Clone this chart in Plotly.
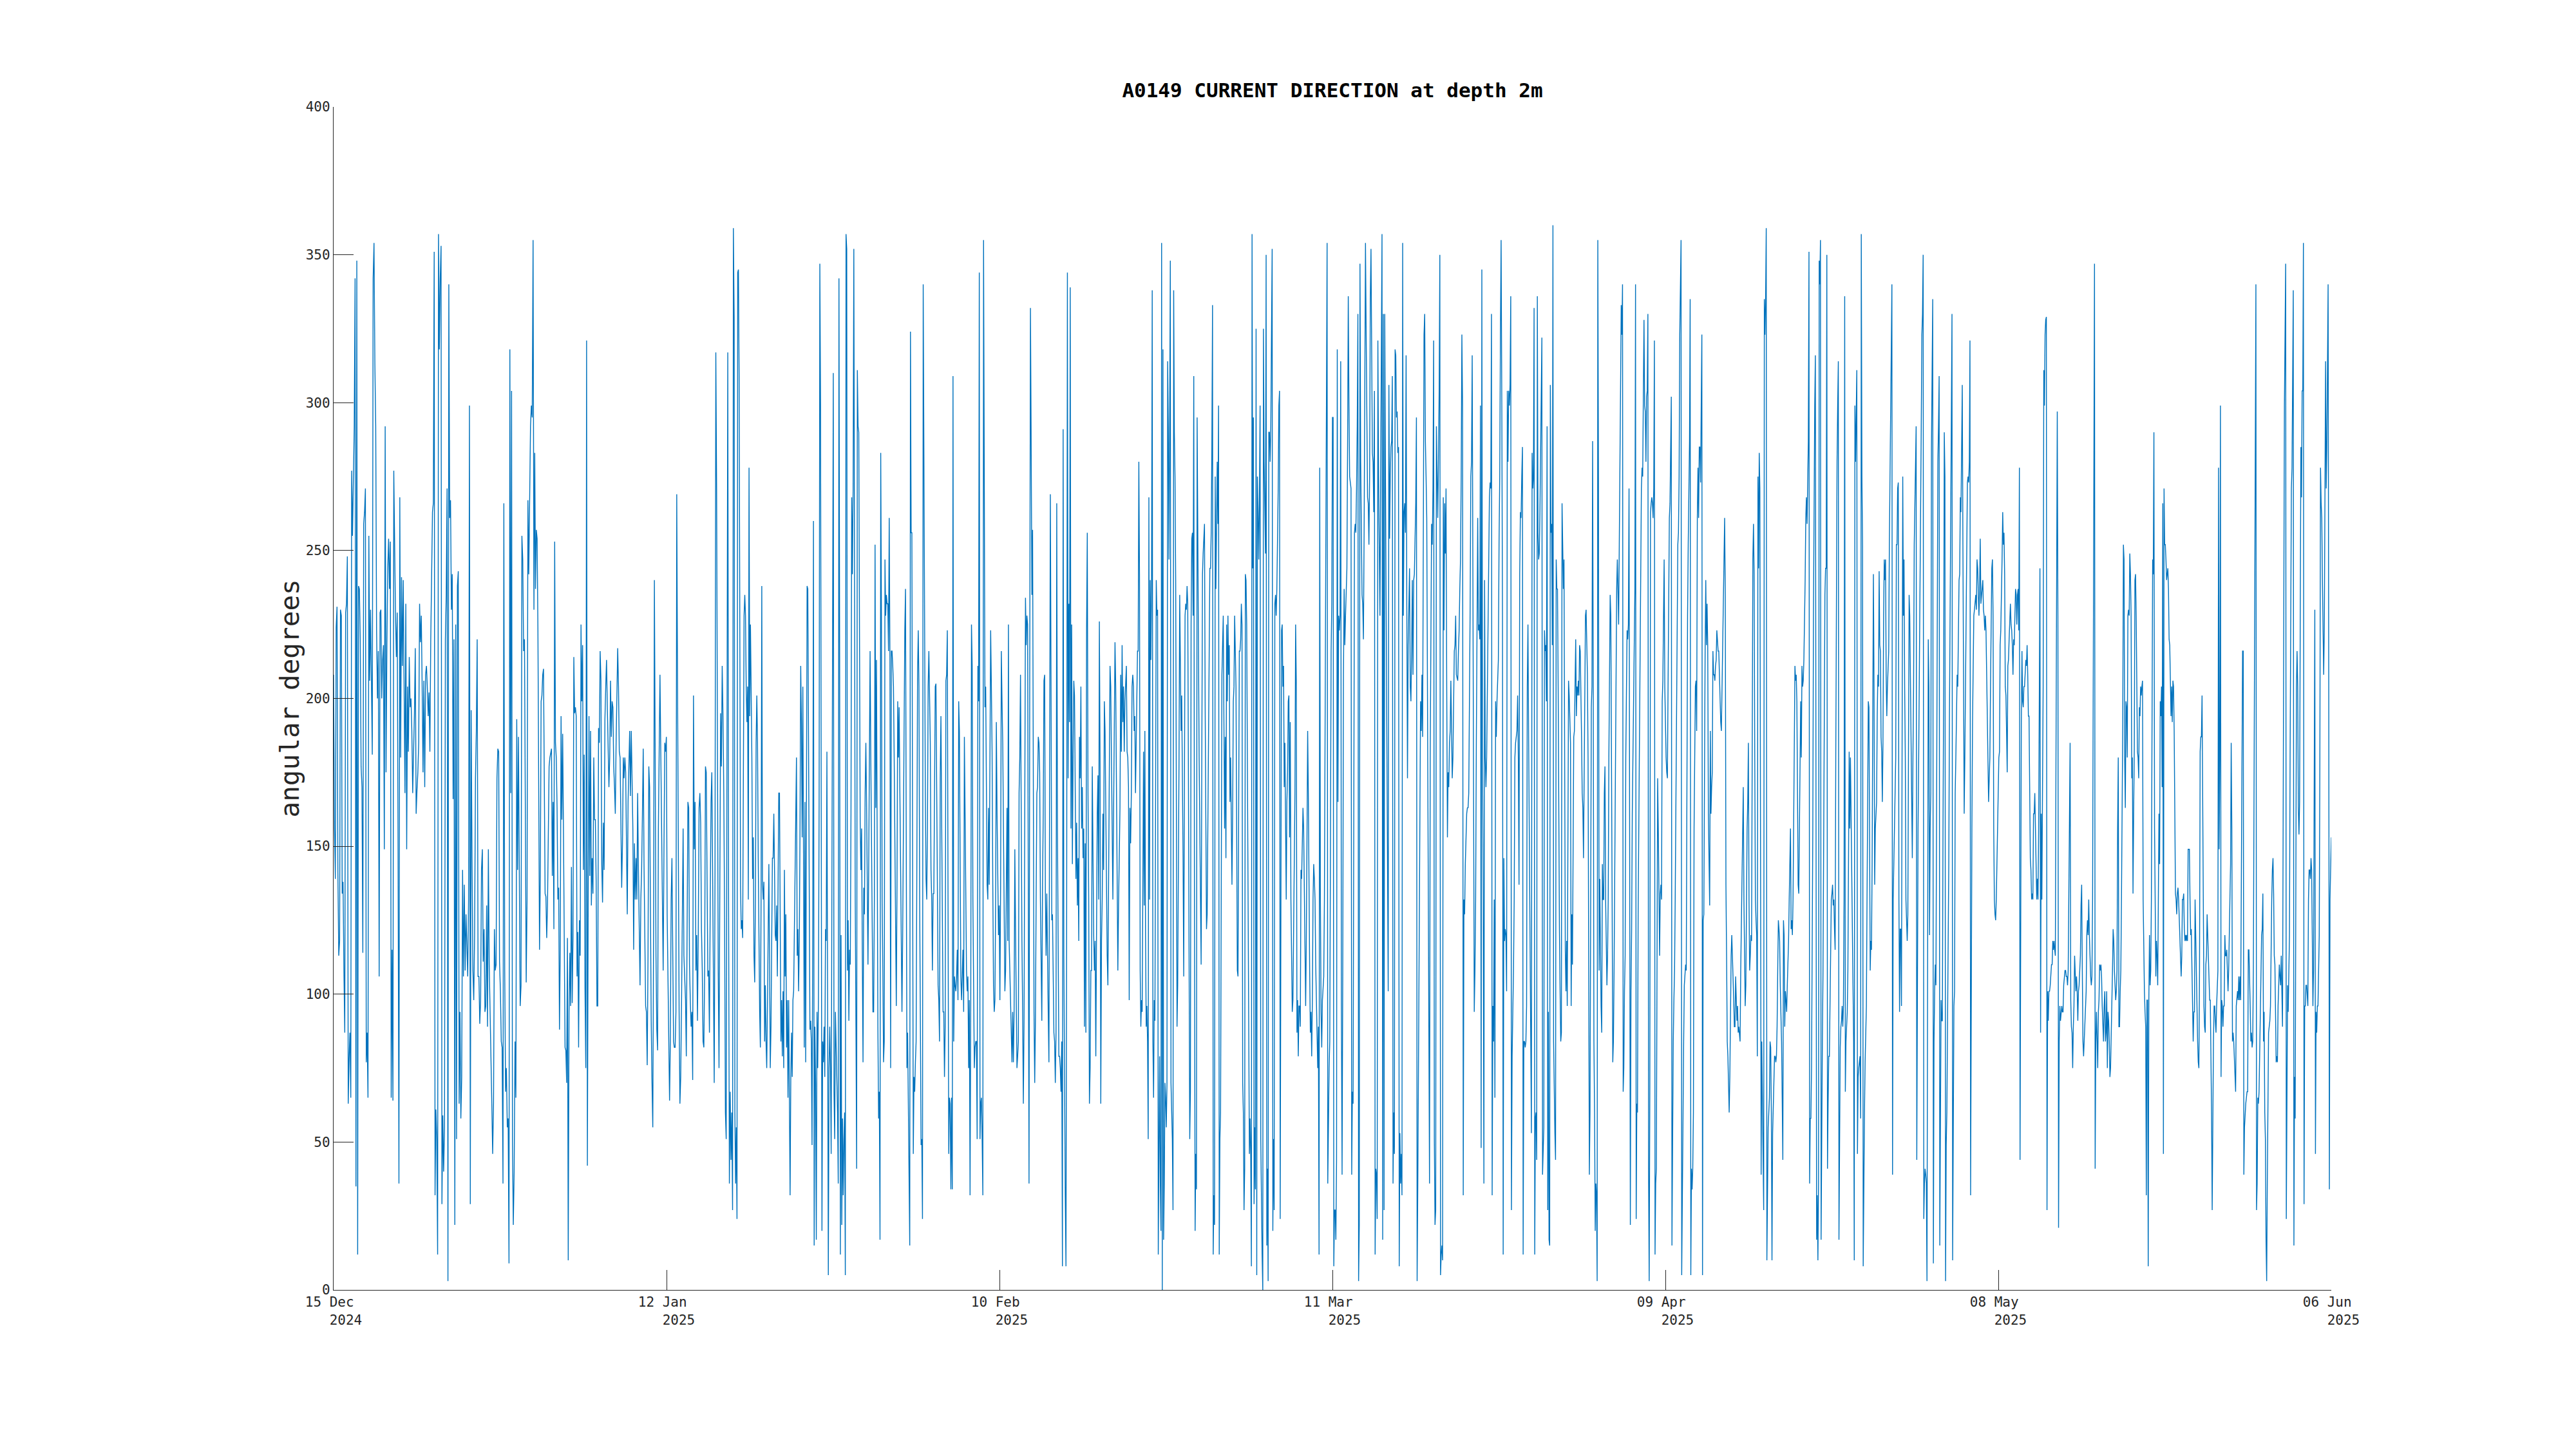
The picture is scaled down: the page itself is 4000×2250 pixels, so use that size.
import numpy as np
import pandas as pd
import plotly.graph_objects as go

# ---- data ----
seg_edges_days = [0, 17.35, 34.69, 51.98, 69.27, 86.56, 103.85, 121.14, 138.43, 155.72, 173.0]

dir_seg01 = [208, 156, 139, 224, 231, 141, 113, 118, 230, 228, 134, 138, 108, 87, 229, 232, 248, 63, 78, 87, 65, 277, 255, 280, 292, 342, 35, 348, 12, 238, 237, 220, 177, 170, 114, 259, 263, 271, 77, 87, 65, 255, 206, 230, 204, 181, 342, 354, 313, 292, 223, 200, 216, 106, 229, 230, 200, 213, 218, 149, 292, 175, 218, 244, 254, 237, 253, 65, 115, 64, 277, 249, 228, 214, 229, 148, 36, 268, 180, 241, 211, 240, 192, 168, 232, 149, 204, 182, 214, 197, 200, 189, 168, 180, 195, 217, 161, 169, 175, 185, 232, 219, 228, 204, 175, 206, 170, 208, 211, 204, 194, 202, 182, 220, 242, 263, 266, 351, 32, 61, 51, 12, 357, 318, 342, 353, 29, 59, 40, 55, 220, 235, 271, 3, 340, 261, 267, 230, 242, 166, 220, 22, 225, 51, 238, 243, 63, 94, 58, 72, 142, 106, 137, 108, 127, 118, 106, 132, 299, 29, 196, 146, 108, 98, 120, 173, 189, 220, 106, 106, 90, 98, 142, 149, 111, 122, 94, 96, 130, 89, 149, 110, 91, 79, 63, 46, 63, 122, 108, 110, 173, 183, 182, 111, 101, 84, 82, 36, 266, 108, 67, 75, 55, 58, 9, 318, 168, 304, 51, 22, 40, 84, 65, 193, 142, 187, 144, 96, 103, 255, 247, 216, 220, 156, 104, 132, 267, 242, 271, 292, 299, 295, 355]

dir_seg02 = [230, 283, 237, 257, 254, 223, 156, 115, 140, 199, 201, 208, 210, 175, 134, 133, 119, 130, 156, 177, 180, 182, 183, 140, 165, 122, 253, 185, 180, 163, 132, 136, 88, 115, 194, 159, 188, 156, 108, 82, 81, 70, 119, 10, 94, 114, 96, 143, 97, 120, 214, 195, 197, 194, 106, 121, 82, 125, 113, 225, 199, 218, 142, 181, 102, 75, 321, 42, 130, 194, 140, 189, 130, 146, 134, 180, 159, 159, 138, 96, 96, 190, 185, 216, 206, 144, 131, 158, 142, 193, 204, 213, 197, 182, 170, 180, 206, 187, 199, 197, 177, 170, 161, 185, 204, 217, 204, 182, 180, 161, 136, 151, 180, 173, 180, 175, 156, 127, 165, 182, 189, 167, 189, 173, 156, 115, 151, 132, 146, 132, 168, 142, 115, 103, 132, 142, 161, 183, 144, 118, 96, 94, 76, 113, 177, 170, 120, 91, 70, 55, 122, 240, 180, 113, 88, 81, 156, 189, 208, 182, 156, 132, 108, 149, 185, 182, 187, 127, 101, 77, 64, 84, 132, 146, 108, 84, 82, 82, 94, 269, 206, 137, 94, 63, 72, 96, 132, 156, 113, 106, 98, 79, 113, 165, 163, 110, 98, 89, 94, 71, 201, 149, 165, 108, 120, 91, 120, 163, 168, 158, 122, 108, 84, 82, 108, 177, 175, 132, 106, 108, 87, 132, 165, 175, 144, 108, 70, 142, 317, 271, 180, 108, 75, 132, 195, 177, 211, 194, 168, 125, 60, 51, 216, 317, 132, 36, 67, 44, 60, 27, 359]

dir_seg03 = [329, 60, 36, 55, 24, 344, 345, 309, 192, 136, 122, 125, 119, 175, 228, 235, 228, 204, 192, 204, 132, 278, 194, 225, 204, 180, 139, 153, 113, 104, 132, 185, 201, 185, 146, 118, 94, 82, 132, 238, 137, 132, 138, 84, 103, 84, 75, 96, 115, 144, 110, 75, 89, 118, 146, 146, 161, 142, 120, 118, 130, 106, 151, 168, 168, 132, 84, 98, 79, 101, 75, 142, 106, 127, 82, 98, 65, 98, 65, 32, 72, 87, 72, 98, 101, 118, 142, 162, 180, 113, 122, 101, 118, 156, 211, 192, 153, 204, 137, 82, 165, 77, 156, 238, 237, 189, 130, 88, 91, 84, 49, 125, 260, 15, 89, 70, 17, 94, 75, 98, 165, 347, 299, 118, 20, 84, 77, 89, 72, 122, 118, 182, 65, 5, 75, 89, 75, 46, 132, 263, 310, 67, 51, 94, 82, 77, 60, 36, 342, 213, 12, 120, 22, 58, 32, 51, 60, 5, 357, 352, 108, 125, 91, 115, 110, 161, 268, 242, 271, 352, 218, 132, 89, 41, 311, 292, 290, 220, 158, 142, 156, 113, 77, 136, 127, 168, 185, 165, 142, 110, 142, 187, 216, 180, 146, 118, 94, 94, 132, 252, 163, 213, 122, 89, 58, 67, 17, 283, 228, 132, 108, 77, 84, 247, 228, 235, 232, 232, 216, 261, 213, 75, 216, 216, 211, 204, 180, 144, 108, 96, 137, 199, 180, 197, 170, 142, 110, 94, 120, 161, 192, 223, 237, 173, 75, 87, 60, 36, 15, 324, 256, 256, 161, 46, 72, 67, 77, 84, 142, 208, 223, 204, 132, 72, 49, 51, 24, 340, 268, 204, 168, 139, 132, 156, 204, 216, 204, 185, 142, 132, 108, 134]

dir_seg04 = [134, 161, 204, 205, 175, 130, 103, 98, 84, 173, 194, 161, 132, 94, 94, 72, 89, 206, 208, 223, 132, 46, 65, 63, 34, 65, 34, 309, 84, 106, 103, 101, 106, 115, 98, 199, 189, 134, 106, 98, 108, 115, 94, 187, 161, 132, 108, 101, 106, 75, 98, 32, 98, 225, 211, 132, 106, 75, 82, 84, 84, 51, 211, 199, 344, 51, 63, 65, 51, 32, 355, 276, 197, 204, 168, 137, 132, 163, 137, 187, 223, 204, 182, 137, 103, 94, 98, 132, 192, 161, 134, 120, 130, 98, 137, 216, 199, 185, 156, 125, 101, 108, 132, 163, 118, 225, 118, 108, 96, 84, 77, 94, 77, 94, 149, 122, 91, 75, 79, 84, 168, 180, 208, 156, 118, 94, 63, 91, 189, 234, 218, 228, 225, 96, 36, 208, 332, 287, 235, 257, 180, 94, 70, 91, 132, 168, 170, 187, 185, 175, 132, 108, 91, 137, 161, 206, 208, 134, 113, 134, 108, 94, 77, 189, 269, 204, 125, 127, 108, 87, 84, 70, 87, 266, 156, 98, 79, 79, 75, 67, 84, 8, 291, 113, 60, 32, 8, 132, 344, 173, 232, 192, 339, 156, 225, 144, 180, 206, 201, 163, 139, 158, 130, 146, 118, 187, 173, 204, 156, 170, 146, 156, 89, 151, 87, 223, 256, 168, 132, 63, 75, 108, 108, 177, 137, 120, 108, 118, 79, 132, 161, 174, 132, 226, 177, 63, 118, 132, 161, 142, 199, 189, 165, 132, 113, 103, 144, 180, 211, 204, 180, 142, 132, 161, 204, 219, 204, 175, 146, 108, 130, 144, 163, 208, 182, 218, 192, 204, 182, 199, 204, 211, 182, 180, 170, 98, 163, 151, 168, 204, 208]

dir_seg05 = [204, 189, 194, 168, 185, 204, 216, 216, 280, 242, 108, 89, 98, 94, 132, 182, 130, 189, 120, 89, 96, 84, 51, 268, 132, 240, 213, 240, 338, 84, 65, 98, 91, 192, 240, 228, 230, 12, 63, 79, 36, 20, 354, 0, 318, 17, 36, 70, 65, 55, 70, 314, 292, 247, 292, 348, 70, 60, 51, 27, 338, 290, 275, 240, 161, 89, 103, 132, 180, 235, 204, 189, 201, 177, 146, 106, 156, 228, 232, 230, 238, 232, 175, 108, 51, 67, 225, 254, 256, 228, 309, 132, 20, 46, 34, 295, 240, 218, 180, 156, 130, 110, 180, 242, 249, 256, 259, 197, 168, 122, 127, 156, 204, 225, 244, 244, 256, 285, 333, 12, 32, 22, 275, 237, 266, 280, 259, 299, 12, 51, 60, 132, 208, 218, 228, 192, 156, 187, 146, 225, 199, 228, 208, 218, 165, 180, 156, 137, 161, 199, 204, 228, 216, 204, 156, 108, 106, 180, 216, 216, 220, 232, 225, 70, 60, 27, 41, 242, 240, 225, 180, 132, 108, 46, 58, 46, 8, 357, 244, 295, 29, 55, 34, 325, 5, 275, 263, 247, 268, 299, 51, 27, 12, 0, 325, 280, 259, 249, 350, 15, 41, 3, 290, 290, 280, 292, 323, 352, 20, 51, 27, 232, 235, 228, 237, 252, 271, 299, 304, 24, 132, 223, 225, 204, 211, 170, 185, 151, 132, 165, 175, 199, 201, 153, 192, 132, 108, 94, 98, 120, 149, 168, 225, 206, 87, 98, 79, 96, 96, 89, 142, 139, 151, 163, 156, 132, 113, 96, 118, 168, 189, 168, 132, 108, 87, 94, 79, 98, 132, 144, 139, 132, 110, 98, 89, 75, 89, 12, 278, 132, 94, 82, 98, 103, 106, 132, 216, 247, 299, 354, 36, 60, 75, 84, 180, 216, 232, 295]

dir_seg06 = [295, 8, 27, 27, 17, 44, 318, 165, 228, 223, 228, 314, 96, 39, 108, 208, 237, 218, 228, 237, 244, 285, 336, 299, 275, 273, 271, 39, 67, 63, 204, 256, 259, 256, 271, 292, 330, 3, 22, 347, 280, 247, 235, 232, 220, 256, 299, 354, 323, 287, 268, 266, 252, 275, 335, 352, 323, 283, 280, 263, 304, 12, 41, 39, 24, 321, 275, 252, 228, 275, 311, 357, 17, 330, 27, 330, 275, 228, 180, 132, 101, 306, 254, 275, 285, 287, 309, 36, 60, 46, 318, 316, 295, 297, 283, 285, 8, 53, 36, 46, 32, 354, 228, 263, 266, 256, 316, 232, 173, 218, 237, 244, 204, 199, 216, 240, 208, 240, 242, 252, 266, 295, 3, 36, 84, 132, 180, 199, 189, 208, 187, 252, 323, 330, 287, 275, 261, 204, 132, 84, 36, 180, 237, 259, 252, 271, 321, 51, 22, 27, 292, 278, 261, 280, 304, 350, 5, 12, 15, 10, 268, 223, 266, 249, 271, 204, 153, 175, 170, 185, 189, 206, 185, 173, 180, 204, 216, 218, 228, 208, 207, 206, 216, 223, 237, 247, 275, 323, 299, 32, 132, 127, 144, 156, 161, 163, 163, 168, 192, 230, 275, 280, 316, 228, 132, 94, 108, 132, 185, 242, 261, 223, 225, 220, 299, 48, 345, 180, 132, 36, 240, 180, 170, 180, 204, 228, 252, 268, 273, 271, 330, 32, 96, 84, 132, 65, 199, 187, 199, 208, 213, 252, 275, 323, 355, 299, 228, 12, 146, 118, 122, 120, 101, 304, 280, 304, 299, 306, 336, 27, 79, 94, 108, 132, 180, 185, 187, 189, 201, 180, 137, 242, 263, 261, 275, 285, 12, 84, 84, 82, 84, 96, 204, 225, 185, 156, 118, 94, 53, 283]

dir_seg07 = [271, 275, 332, 12, 58, 60, 44, 336, 256, 247, 249, 263, 283, 299, 322, 39, 51, 55, 223, 216, 218, 199, 292, 27, 94, 17, 15, 306, 256, 259, 218, 360, 84, 65, 53, 44, 247, 237, 237, 204, 156, 122, 101, 84, 87, 266, 252, 237, 247, 180, 115, 101, 118, 96, 161, 206, 201, 194, 185, 96, 127, 110, 156, 187, 189, 204, 220, 194, 204, 201, 206, 201, 218, 216, 204, 187, 168, 163, 146, 180, 213, 228, 230, 216, 208, 180, 108, 39, 60, 132, 197, 204, 287, 204, 84, 60, 20, 36, 32, 3, 355, 275, 108, 139, 113, 96, 87, 144, 132, 132, 168, 177, 132, 118, 103, 113, 132, 180, 223, 235, 228, 192, 132, 77, 84, 108, 144, 180, 218, 237, 247, 237, 225, 252, 287, 316, 333, 323, 340, 67, 75, 101, 113, 180, 204, 223, 220, 225, 271, 94, 22, 101, 122, 161, 180, 185, 204, 237, 340, 24, 63, 60, 127, 156, 180, 218, 252, 271, 278, 275, 302, 328, 299, 297, 280, 302, 304, 330, 41, 3, 70, 263, 266, 268, 266, 261, 271, 321, 12, 36, 41, 94, 173, 156, 132, 113, 134, 137, 132, 199, 206, 228, 247, 204, 189, 180, 175, 173, 204, 240, 261, 266, 280, 302, 15, 60, 84, 98, 108, 132, 165, 204, 228, 252, 256, 275, 323, 340, 355, 5, 36, 60, 84, 103, 108, 110, 108, 180, 228, 252, 271, 287, 335, 5, 41, 34, 41, 60, 156, 185, 204, 206, 189, 261, 278, 261, 285, 285, 273, 299, 323, 5, 125, 127, 180, 216, 240, 218, 232, 218, 161, 144, 130, 189, 161, 170, 175, 216, 208, 208, 206, 211, 213, 223, 220, 216, 216, 208, 199, 192, 189, 204, 223, 237, 242, 261, 235, 137, 113, 84, 79, 65, 60, 72, 96, 113, 120]

dir_seg08 = [114, 108, 98, 89, 89, 106, 98, 91, 96, 87, 89, 87, 84, 108, 127, 144, 156, 170, 132, 108, 96, 103, 132, 156, 165, 185, 132, 108, 113, 120, 118, 180, 247, 259, 242, 180, 132, 125, 120, 79, 275, 244, 283, 271, 144, 39, 84, 60, 36, 27, 335, 323, 335, 359, 10, 46, 55, 60, 65, 84, 82, 60, 10, 53, 60, 70, 79, 79, 77, 79, 89, 108, 125, 122, 118, 103, 94, 84, 65, 44, 125, 120, 89, 101, 98, 94, 103, 110, 118, 132, 144, 156, 122, 125, 120, 132, 158, 180, 211, 206, 208, 199, 168, 137, 134, 161, 180, 199, 180, 211, 204, 206, 213, 223, 240, 261, 268, 259, 271, 287, 351, 36, 58, 58, 75, 108, 156, 228, 268, 299, 316, 132, 17, 32, 10, 36, 348, 340, 355, 17, 60, 84, 108, 156, 204, 235, 244, 244, 350, 41, 63, 79, 79, 96, 118, 132, 134, 137, 130, 132, 122, 115, 180, 252, 280, 299, 314, 17, 60, 82, 89, 91, 96, 89, 96, 132, 336, 67, 84, 89, 94, 108, 144, 182, 156, 180, 161, 142, 132, 108, 84, 10, 299, 280, 292, 311, 46, 72, 75, 77, 79, 58, 357, 275, 252, 8, 49, 60, 77, 84, 96, 132, 180, 199, 197, 156, 108, 118, 115, 144, 180, 242, 204, 137, 156, 163, 165, 194, 208, 204, 243, 218, 216, 187, 182, 165, 185, 228, 247, 240, 247, 208, 194, 204, 211, 216, 252, 275, 299, 323, 340, 39, 132, 144, 156, 161, 180, 252, 252, 271, 273, 132, 94, 122, 122, 96, 204, 275, 228, 247, 204, 180, 132, 122, 118, 127, 180, 235, 228, 204, 180, 163, 146, 180, 204, 252, 268, 275, 292, 44, 132, 156, 180, 204, 228, 263, 292, 323, 330, 350, 24, 36, 41, 39, 36, 3, 132, 220, 204, 120, 156, 168, 285]

dir_seg09 = [311, 335, 9, 84, 101, 110, 103, 156, 240, 280, 292, 309, 15, 60, 98, 91, 91, 156, 204, 290, 275, 3, 49, 60, 84, 108, 144, 192, 228, 249, 275, 330, 10, 72, 96, 101, 168, 180, 192, 208, 204, 230, 240, 242, 268, 263, 287, 306, 252, 180, 161, 180, 204, 237, 261, 273, 275, 273, 280, 321, 32, 108, 156, 192, 216, 228, 230, 232, 235, 230, 247, 244, 237, 228, 237, 254, 232, 235, 237, 240, 230, 228, 223, 228, 223, 208, 187, 182, 165, 173, 180, 204, 228, 244, 247, 228, 156, 132, 127, 125, 132, 144, 163, 175, 180, 182, 218, 223, 232, 247, 263, 252, 256, 242, 204, 201, 189, 175, 211, 213, 220, 228, 232, 225, 223, 218, 208, 220, 218, 228, 237, 235, 225, 235, 237, 223, 278, 44, 161, 192, 216, 199, 197, 204, 204, 208, 213, 211, 218, 208, 194, 194, 156, 146, 142, 132, 134, 132, 161, 161, 168, 156, 142, 132, 139, 132, 156, 218, 244, 87, 161, 132, 161, 204, 311, 299, 323, 328, 329, 27, 101, 91, 101, 101, 103, 106, 110, 110, 118, 115, 118, 115, 113, 180, 252, 297, 228, 21, 84, 96, 91, 94, 96, 94, 94, 103, 106, 108, 108, 106, 106, 103, 108, 132, 156, 185, 98, 89, 87, 75, 89, 96, 113, 108, 101, 106, 101, 91, 101, 103, 108, 113, 130, 137, 108, 84, 79, 84, 89, 96, 101, 120, 125, 120, 132, 120, 110, 106, 103, 106, 132, 204, 299, 347, 41, 84, 94, 79, 75, 94, 98, 110, 108, 110, 106, 96, 89, 84, 96, 101, 84, 87, 101, 75, 94, 91, 84, 72, 75, 84, 96, 108, 122, 118, 108, 101, 98, 101, 108, 156, 180, 89, 89, 101, 108, 132, 156, 192, 252, 247, 180, 163, 199, 197, 180, 228, 230, 228, 249, 242, 228]

dir_seg10 = [173, 180, 134, 161, 182, 240, 242, 228, 206, 182, 180, 173, 197, 194, 204, 201, 204, 206, 132, 108, 101, 94, 89, 32, 98, 98, 8, 98, 120, 103, 108, 132, 204, 247, 242, 290, 156, 132, 106, 118, 113, 103, 132, 161, 144, 199, 194, 204, 170, 266, 46, 271, 252, 252, 247, 240, 242, 244, 237, 220, 218, 206, 194, 204, 192, 206, 204, 189, 156, 134, 132, 127, 134, 136, 132, 125, 118, 110, 106, 113, 132, 132, 134, 122, 118, 120, 118, 120, 118, 149, 149, 149, 132, 120, 122, 108, 96, 84, 94, 94, 132, 118, 108, 98, 84, 77, 75, 108, 182, 187, 187, 201, 156, 108, 96, 89, 87, 110, 113, 127, 120, 108, 106, 98, 98, 84, 60, 27, 60, 84, 96, 96, 91, 87, 96, 103, 108, 278, 149, 180, 299, 72, 98, 96, 89, 96, 96, 120, 113, 113, 115, 108, 101, 108, 120, 132, 144, 185, 156, 84, 87, 84, 79, 75, 67, 96, 98, 101, 98, 106, 98, 106, 98, 132, 165, 216, 216, 39, 55, 60, 63, 65, 67, 67, 115, 115, 108, 96, 84, 87, 82, 84, 108, 180, 208, 275, 340, 27, 36, 65, 63, 67, 79, 96, 108, 120, 122, 134, 84, 94, 60, 51, 17, 3, 36, 60, 87, 89, 91, 96, 118, 132, 142, 146, 134, 113, 110, 94, 77, 79, 77, 96, 106, 110, 106, 103, 113, 96, 89, 156, 271, 299, 323, 347, 24, 84, 103, 94, 108, 120, 180, 252, 271, 278, 311, 338, 15, 72, 58, 132, 204, 216, 204, 163, 154, 165, 228, 285, 268, 304, 304, 354, 29, 96, 96, 103, 103, 98, 96, 132, 142, 142, 139, 146, 142, 120, 96, 108, 180, 230, 46, 94, 87, 96, 96, 108, 120, 180, 278, 266, 261, 240, 223, 208, 223, 263, 314, 271, 285, 311, 340, 204, 34, 132, 142, 153]

x_tick_days = ["15 Dec", "12 Jan", "10 Feb", "11 Mar", "09 Apr", "08 May", "06 Jun"]
x_tick_years = ["2024", "2025", "2025", "2025", "2025", "2025", "2025"]
y_tick_values = [0, 50, 100, 150, 200, 250, 300, 350, 400]

title_text = "A0149 CURRENT DIRECTION at depth 2m"
y_label = "angular degrees"

# ---- build the series ----
segments = [dir_seg01, dir_seg02, dir_seg03, dir_seg04, dir_seg05,
            dir_seg06, dir_seg07, dir_seg08, dir_seg09, dir_seg10]
t0 = pd.Timestamp("2024-12-15 00:00")
t1 = pd.Timestamp("2025-06-06 00:00")

times = []
values = []
for k, seg in enumerate(segments):
    d0, d1 = seg_edges_days[k], seg_edges_days[k + 1]
    last = (k == len(segments) - 1)
    days = np.linspace(d0, d1, len(seg), endpoint=last)
    times.extend(list(t0 + pd.to_timedelta(days, unit="D")))
    values.extend(seg)

span_days = (t1 - t0).total_seconds() / 86400.0
tick_vals = [t0 + pd.to_timedelta(span_days * i / (len(x_tick_days) - 1), unit="D")
             for i in range(len(x_tick_days))]
NB = "\u00a0"
tick_text = [f"{d}{NB}<br>{NB*3}{y}" for d, y in zip(x_tick_days, x_tick_years)]

FONT = "DejaVu Sans Mono"
AX = "#262626"

fig = go.Figure()
fig.add_trace(go.Scatter(
    x=times, y=values, mode="lines",
    line=dict(color="#0072BD", width=1.4),
    hoverinfo="skip", showlegend=False,
))

# the page body adds an 8px offset; margins compensate so the axes land where the reference has them
fig.update_layout(
    width=4000, height=2250,
    margin=dict(l=510, r=388, t=158, b=255),
    paper_bgcolor="white", plot_bgcolor="white",
    font=dict(family=FONT, size=21, color=AX),
    showlegend=False,
    title=dict(
        text=f"<b>{title_text}</b>",
        font=dict(family=FONT, size=31, color="black"),
        x=0.5, xref="paper", xanchor="center",
        y=1 - 132 / 2250, yref="container", yanchor="middle",
    ),
    xaxis=dict(
        range=[t0, t1], showgrid=False, zeroline=False,
        showline=True, linecolor=AX, linewidth=1.3,
        ticks="inside", ticklen=31, tickwidth=1.2, tickcolor=AX,
        tickmode="array", tickvals=tick_vals, ticktext=tick_text,
        tickfont=dict(family=FONT, size=21, color=AX),
    ),
    yaxis=dict(
        range=[0, 400], showgrid=False, zeroline=False,
        showline=True, linecolor=AX, linewidth=1.3,
        ticks="inside", ticklen=31, tickwidth=1.2, tickcolor=AX,
        tickmode="array", tickvals=y_tick_values,
        ticktext=[str(v) for v in y_tick_values],
        tickfont=dict(family=FONT, size=21, color=AX),
    ),
    annotations=[dict(
        text=y_label, textangle=-90, showarrow=False,
        xref="paper", yref="paper", x=(449 - 518) / 3102, y=0.5,
        xanchor="center", yanchor="middle",
        font=dict(family=FONT, size=41, color=AX),
    )],
)

fig.write_html("out.html")
